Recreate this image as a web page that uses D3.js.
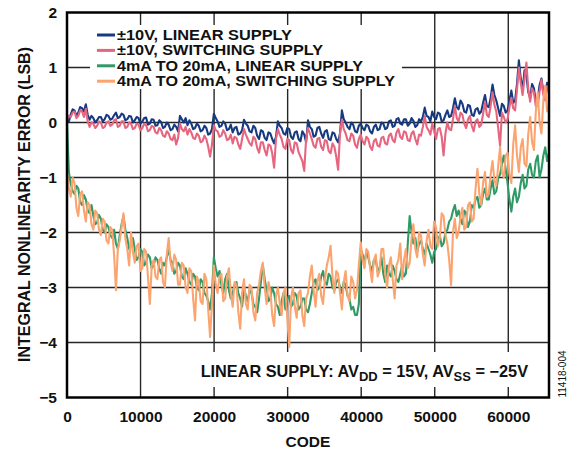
<!DOCTYPE html>
<html>
<head>
<meta charset="utf-8">
<script src="https://cdn.jsdelivr.net/npm/d3@7"></script>
<style>
	body { margin: 0; background: #fff; }
	text { font-family: "Liberation Sans", Arial, sans-serif; font-weight: bold; fill: #111; }
</style>
</head>
<body>
<div id="chart"></div>
<script>
// Code samples are taken every 256 codes, 0 .. 65536 (16 per row below)
const codeStep = 256;

const xTicks = [0, 10000, 20000, 30000, 40000, 50000, 60000];
const yTicks = [-5, -4, -3, -2, -1, 0, 1, 2];

const seriesNames = [
	"±10V, LINEAR SUPPLY",
	"±10V, SWITCHING SUPPLY",
	"4mA TO 20mA, LINEAR SUPPLY",
	"4mA TO 20mA, SWITCHING SUPPLY",
];
const seriesColors = ["#163a82", "#e6657f", "#2f9a66", "#fba46f"];
// width of each legend label in the picture (px)
const legendTextWidths = [175, 206, 246, 278];

// INL (LSB)
const v10Linear = [
	0.08, 0.02, 0.15, 0.24, 0.22, 0.12, 0.18, 0.28, 0.26, 0.2, 0.33, 0.14, 0.05, 0.12, 0.08, 0.0,
	0.04, 0.1, 0.10, 0.02, 0.06, 0.14, 0.12, 0.05, 0.07, 0.13, 0.18, 0.08, 0.10, 0.16, 0.14, 0.04,
	0.06, 0.12, 0.11, 0.0, 0.04, 0.1, 0.08, -0.02, 0.02, 0.08, 0.09, -0.04, -0.02, 0.06, 0.05, -0.06,
	-0.05, 0.04, 0.01, -0.1, -0.08, 0.0, -0.04, -0.14, -0.12, -0.04, -0.08, -0.16, 0.12, 0.06, 0.0, 0.08,
	-0.05, 0.04, -0.02, -0.12, -0.1, -0.02, -0.06, -0.16, -0.14, -0.06, -0.1, -0.22, -0.2, -0.12, 0.16, 0.08,
	0.02, -0.08, -0.06, 0.02, -0.02, -0.14, -0.12, -0.04, -0.18, -0.1, -0.08, -0.22, -0.2, -0.14, 0.05, -0.02,
	-0.06, -0.16, -0.18, -0.06, -0.1, -0.24, -0.3, -0.14, -0.16, -0.28, -0.32, -0.18, -0.2, -0.3, -0.38, -0.26,
	0.02, -0.06, -0.1, -0.2, -0.22, -0.1, -0.12, -0.26, -0.3, -0.18, -0.16, -0.3, -0.34, -0.16, -0.22, -0.36,
	0.04, -0.08, -0.12, -0.26, -0.24, -0.1, -0.08, -0.2, -0.28, -0.16, -0.14, -0.3, -0.32, -0.18, -0.2, -0.3,
	-0.36, -0.2, 0.22, 0.06, 0.0, -0.08, -0.12, 0.0, -0.04, -0.16, -0.18, -0.06, -0.02, -0.1, -0.14, -0.04,
	-0.06, -0.16, -0.2, -0.08, -0.04, -0.14, -0.12, 0.0, -0.02, -0.12, -0.1, 0.02, 0.04, -0.08, -0.06, 0.06,
	0.08, -0.02, -0.04, 0.06, 0.06, -0.06, -0.02, 0.08, 0.03, -0.08, -0.05, 0.06, 0.02, 0.1, 0.27, 0.12,
	0.1, 0.02, 0.2, 0.1, 0.06, 0.18, 0.16, 0.02, 0.04, 0.14, 0.22, 0.1, 0.12, 0.26, 0.44, 0.28,
	0.24, 0.4, 0.34, 0.2, 0.18, 0.32, 0.3, 0.14, 0.12, 0.24, 0.26, 0.16, 0.2, 0.36, 0.5, 0.3,
	0.28, 0.44, 0.69, 0.5, 0.4, 0.26, 0.12, 0.34, 0.3, 0.18, 0.22, 0.4, 0.58, 0.36, 0.4, 0.7,
	1.13, 0.8, 0.6, 0.95, 0.85, 0.55, 0.45, 0.7, 0.62, 0.38, 0.42, 0.68, 0.8, 0.55, 0.5, 0.72,
	0.62,
];

const v10Switching = [
	0.05, 0.12, 0.1, 0.18, 0.2, 0.08, 0.12, 0.22, 0.2, 0.1, 0.25, 0.02, -0.08, 0.0, -0.02, -0.1,
	-0.06, 0.02, 0.0, -0.1, -0.08, 0.0, 0.02, -0.06, -0.04, 0.04, 0.06, -0.08, -0.06, 0.02, 0.02, -0.1,
	-0.08, 0.0, -0.02, -0.12, -0.1, -0.02, -0.04, -0.14, -0.1, -0.02, -0.05, -0.16, -0.14, -0.06, -0.08, -0.18,
	-0.2, -0.1, -0.14, -0.24, -0.26, -0.16, -0.2, -0.3, -0.32, -0.22, -0.4, -0.28, -0.02, -0.12, -0.16, -0.08,
	-0.22, -0.12, -0.18, -0.28, -0.3, -0.2, -0.24, -0.36, -0.34, -0.24, -0.3, -0.44, -0.62, -0.4, -0.05, -0.14,
	-0.16, -0.26, -0.24, -0.14, -0.2, -0.32, -0.3, -0.22, -0.38, -0.26, -0.28, -0.4, -0.48, -0.3, -0.12, -0.22,
	-0.3, -0.38, -0.42, -0.26, -0.3, -0.46, -0.55, -0.36, -0.36, -0.5, -0.6, -0.4, -0.42, -0.56, -0.82, -0.3,
	-0.12, -0.22, -0.3, -0.44, -0.48, -0.3, -0.32, -0.5, -0.56, -0.36, -0.38, -0.54, -0.62, -0.7, -0.88, -0.3,
	-0.1, -0.2, -0.3, -0.42, -0.46, -0.3, -0.28, -0.44, -0.5, -0.32, -0.34, -0.52, -0.56, -0.38, -0.44, -0.62,
	-0.86, -0.2, 0.05, -0.12, -0.2, -0.32, -0.34, -0.2, -0.24, -0.4, -0.46, -0.3, -0.22, -0.34, -0.4, -0.26,
	-0.3, -0.44, -0.5, -0.34, -0.3, -0.42, -0.44, -0.28, -0.26, -0.38, -0.4, -0.24, -0.2, -0.32, -0.36, -0.18,
	-0.12, -0.26, -0.3, -0.16, -0.18, -0.32, -0.34, -0.2, -0.16, -0.3, -0.4, -0.22, -0.24, -0.08, 0.12, -0.08,
	-0.14, -0.22, -0.02, -0.16, -0.3, -0.12, -0.1, -0.26, -0.6, -0.2, 0.0, -0.12, -0.14, 0.06, 0.3, 0.08,
	0.02, 0.18, 0.14, -0.02, -0.1, 0.06, 0.12, -0.06, -0.16, 0.02, 0.06, -0.08, -0.04, 0.16, 0.38, 0.14,
	0.1, 0.3, 0.55, 0.32, 0.2, -0.1, -0.42, 0.18, 0.1, 0.0, 0.06, 0.28, 0.45, 0.26, 0.22, 0.6,
	1.0, 0.72, 0.5, 0.8, 1.09, 0.6, 0.38, 0.62, 0.55, 0.3, 0.3, 0.56, 0.78, 0.5, 0.4, 0.66,
	0.55,
];

const mALinear = [
	0.0, -0.9, -1.12, -1.25, -1.3, -1.15, -1.2, -1.45, -1.5, -1.32, -1.4, -1.6, -1.65, -1.5, -1.7, -1.85,
	-1.82, -1.68, -1.75, -1.95, -2.0, -1.85, -1.9, -2.05, -2.1, -1.95, -2.2, -2.3, -2.05, -1.85, -1.7, -1.95,
	-2.1, -2.3, -2.25, -2.1, -2.3, -2.5, -2.45, -2.3, -2.35, -2.6, -2.55, -2.4, -2.45, -2.65, -2.6, -2.45,
	-2.5, -2.65, -2.75, -2.55, -2.6, -2.45, -2.3, -2.5, -2.55, -2.75, -2.7, -2.55, -2.6, -2.8, -2.85, -2.65,
	-2.75, -2.9, -2.95, -2.75, -2.8, -3.0, -3.05, -2.85, -2.9, -3.1, -3.15, -3.25, -3.4, -3.1, -2.45, -2.65,
	-2.8, -2.7, -2.95, -3.1, -2.85, -2.75, -3.05, -3.2, -3.1, -2.95, -2.9, -3.1, -3.2, -3.35, -3.0, -3.15,
	-3.25, -3.05, -3.1, -3.3, -3.35, -3.45, -3.2, -2.9, -2.6, -2.85, -3.05, -3.25, -3.2, -3.0, -3.1, -3.3,
	-3.35, -3.5, -3.25, -3.1, -3.4, -3.2, -3.15, -3.35, -3.3, -3.1, -3.15, -3.4, -3.35, -3.2, -3.2, -3.4,
	-3.45, -3.3, -3.1, -2.9, -2.85, -3.05, -3.0, -2.8, -2.7, -2.9, -2.95, -2.75, -2.8, -3.0, -3.05, -2.9,
	-2.85, -3.0, -3.1, -2.9, -2.95, -3.15, -3.2, -3.4, -3.35, -3.5, -3.5, -3.3, -2.3, -2.4, -2.55, -2.35,
	-2.45, -2.6, -2.7, -2.5, -2.5, -2.7, -2.65, -2.45, -2.75, -2.9, -2.6, -2.75, -2.8, -2.6, -2.7, -2.85,
	-2.9, -2.75, -2.6, -2.8, -2.75, -2.2, -1.7, -2.0, -2.2, -2.1, -2.35, -2.2, -2.15, -2.3, -2.4, -2.2,
	-2.3, -2.4, -2.55, -2.35, -2.3, -2.15, -2.05, -2.25, -2.2, -2.0, -1.95, -1.8, -1.75, -1.6, -1.5, -1.7,
	-1.6, -1.75, -1.85, -1.6, -1.65, -1.9, -1.8, -1.5, -1.55, -1.4, -1.35, -1.55, -1.5, -1.3, -1.2, -1.4,
	-1.4, -1.2, -1.05, -1.3, -1.25, -1.0, -0.95, -0.75, -0.6, -0.85, -1.1, -1.4, -1.62, -1.35, -1.2, -1.45,
	-1.35, -1.1, -0.95, -1.2, -1.15, -0.85, -0.75, -0.95, -1.0, -0.7, -0.6, -1.0, -0.85, -0.6, -0.45, -0.7,
	-0.55,
];

const mASwitching = [
	-0.9, -1.2, -1.35, -1.0, -1.1, -1.55, -1.7, -1.3, -1.25, -1.6, -1.8, -1.45, -1.5, -1.85, -1.95, -1.6,
	-1.65, -1.95, -2.05, -1.75, -1.8, -2.15, -2.2, -1.9, -1.95, -2.4, -3.05, -2.3, -2.15, -1.9, -1.65, -2.1,
	-2.3, -2.6, -2.0, -2.35, -2.55, -2.25, -2.2, -2.7, -2.65, -2.3, -2.35, -2.8, -3.3, -2.6, -2.5, -2.8,
	-2.85, -2.5, -2.45, -2.9, -3.0, -2.4, -2.1, -2.55, -2.7, -2.4, -2.5, -2.95, -2.95, -2.55, -2.6, -3.0,
	-3.1, -2.65, -2.7, -3.2, -3.6, -2.8, -2.9, -3.25, -3.3, -2.75, -2.85, -3.4, -3.9, -3.3, -2.6, -2.95,
	-3.1, -2.8, -2.75, -3.25, -3.2, -2.8, -2.65, -3.1, -3.35, -2.9, -2.95, -3.45, -3.75, -3.1, -2.85, -3.3,
	-3.4, -2.95, -3.0, -3.45, -3.6, -3.1, -2.95, -2.7, -2.55, -3.0, -3.3, -2.9, -3.05, -3.5, -3.7, -3.15,
	-3.0, -3.3, -3.5, -3.1, -3.0, -3.55, -4.08, -3.2, -3.0, -3.35, -3.55, -3.1, -3.05, -3.5, -3.7, -3.2,
	-3.1, -2.8, -2.6, -3.05, -3.35, -2.9, -2.75, -3.15, -3.3, -2.85, -2.6, -2.45, -2.24, -2.8, -3.1, -2.7,
	-2.75, -3.1, -3.4, -2.9, -2.7, -3.15, -3.25, -2.8, -2.9, -3.2, -3.05, -2.6, -2.18, -2.5, -2.65, -2.3,
	-2.35, -2.65, -2.9, -2.5, -2.4, -2.8, -2.7, -2.3, -2.3, -2.75, -3.0, -2.6, -2.45, -2.85, -3.2, -2.6,
	-2.5, -2.2, -2.85, -2.5, -2.3, -2.65, -2.55, -2.1, -1.85, -2.3, -2.45, -2.0, -2.05, -2.4, -2.6, -2.15,
	-1.95, -2.25, -2.3, -1.8, -1.9, -2.25, -2.1, -1.65, -1.7, -2.05, -2.2, -2.5, -2.96, -2.0, -1.75, -2.1,
	-2.0, -1.7, -1.55, -1.95, -1.9, -1.5, -1.45, -1.8, -1.75, -1.2, -0.84, -1.3, -1.5, -1.1, -0.9, -1.35,
	-1.3, -0.95, -0.7, -1.05, -1.15, -0.8, -0.45, -0.9, -1.0, -0.6, -0.55, -0.95, -1.1, -0.4, -0.05, -0.6,
	-0.9, -0.45, -0.3, -0.75, -0.8, -0.2, 0.1, -0.35, -0.5, 0.2, 0.55, 0.0, -0.2, 0.4, 0.67, 0.2,
	0.3,
];

const allSeries = [v10Linear, v10Switching, mALinear, mASwitching];

const width = 568;
const height = 449;
const plot = { left: 67, right: 549, top: 12.5, bottom: 397.5 };

const x = d3.scaleLinear().domain([0, 65536]).range([plot.left, plot.right]);
const y = d3.scaleLinear().domain([-5, 2]).range([plot.bottom, plot.top]);

const svg = d3
	.select("#chart")
	.append("svg")
	.attr("width", width)
	.attr("height", height);

// Grid
const grid = svg.append("g").attr("stroke", "#262626").attr("stroke-width", 1.4);
grid.selectAll("line.v")
	.data(xTicks.slice(1))
	.join("line")
	.attr("x1", (d) => x(d))
	.attr("x2", (d) => x(d))
	.attr("y1", plot.top)
	.attr("y2", plot.bottom);
grid.selectAll("line.h")
	.data(yTicks.slice(1, -1))
	.join("line")
	.attr("x1", plot.left)
	.attr("x2", plot.right)
	.attr("y1", (d) => y(d))
	.attr("y2", (d) => y(d));

// White boxes behind legend and note (they cut the grid)
svg.append("rect").attr("x", 90).attr("y", 25).attr("width", 312).attr("height", 64).attr("fill", "#fff");
svg.append("rect").attr("x", 190).attr("y", 352).attr("width", 350).attr("height", 35).attr("fill", "#fff");

// Series
const line = d3
	.line()
	.x((d, i) => x(i * codeStep))
	.y((d) => y(d));

svg.append("g")
	.selectAll("path")
	.data(allSeries)
	.join("path")
	.attr("d", line)
	.attr("fill", "none")
	.attr("stroke", (d, i) => seriesColors[i])
	.attr("stroke-width", 2.1)
	.attr("stroke-linejoin", "round");

// Frame
svg.append("rect")
	.attr("x", plot.left)
	.attr("y", plot.top)
	.attr("width", plot.right - plot.left)
	.attr("height", plot.bottom - plot.top)
	.attr("fill", "none")
	.attr("stroke", "#000")
	.attr("stroke-width", 2.5);

// Axes (labels only)
const xAxis = svg.append("g")
	.attr("transform", `translate(0,${plot.bottom})`)
	.call(d3.axisBottom(x).tickValues(xTicks).tickSize(0).tickPadding(13).tickFormat(d3.format("d")));
const yAxis = svg.append("g")
	.attr("transform", `translate(${plot.left},0)`)
	.call(d3.axisLeft(y).tickValues(yTicks).tickSize(0).tickPadding(10).tickFormat(d3.format("d")));
[xAxis, yAxis].forEach((a) => {
	a.select(".domain").remove();
	a.selectAll("text").style("font-size", "15.5px").attr("fill", "#111");
});

svg.append("text")
	.attr("x", 308)
	.attr("y", 447)
	.attr("text-anchor", "middle")
	.style("font-size", "15.5px")
	.text("CODE");

svg.append("text")
	.attr("transform", `translate(30,${(plot.top + plot.bottom) / 2 - 0.5}) rotate(-90)`)
	.attr("text-anchor", "middle")
	.attr("textLength", 315)
	.attr("lengthAdjust", "spacingAndGlyphs")
	.style("font-size", "16px")
	.text("INTEGRAL NONLINEARITY ERROR (LSB)");

// Legend
const legend = svg.append("g").attr("transform", "translate(97,35)");
const item = legend
	.selectAll("g")
	.data(seriesNames)
	.join("g")
	.attr("transform", (d, i) => `translate(0,${i * 15.4})`);
item.append("line")
	.attr("x1", 0)
	.attr("x2", 18)
	.attr("stroke", (d, i) => seriesColors[i])
	.attr("stroke-width", 3);
item.append("text")
	.attr("x", 20)
	.attr("y", 4.8)
	.attr("textLength", (d, i) => legendTextWidths[i])
	.attr("lengthAdjust", "spacingAndGlyphs")
	.style("font-size", "14px")
	.text((d) => d);

// Supply note
const note = svg.append("text")
	.attr("x", 528)
	.attr("y", 377)
	.attr("text-anchor", "end")
	.style("font-size", "16.3px");
note.append("tspan").text("LINEAR SUPPLY: AV");
note.append("tspan").attr("dy", 3.8).style("font-size", "13px").text("DD");
note.append("tspan").attr("dy", -3.8).text(" = 15V, AV");
note.append("tspan").attr("dy", 3.8).style("font-size", "13px").text("SS");
note.append("tspan").attr("dy", -3.8).text(" = \u221225V");

// Figure id
svg.append("text")
	.attr("transform", "translate(566,374) rotate(-90)")
	.attr("text-anchor", "middle")
	.style("font-size", "10px")
	.style("font-weight", "normal")
	.attr("fill", "#444")
	.text("11418-004");
</script>
</body>
</html>
